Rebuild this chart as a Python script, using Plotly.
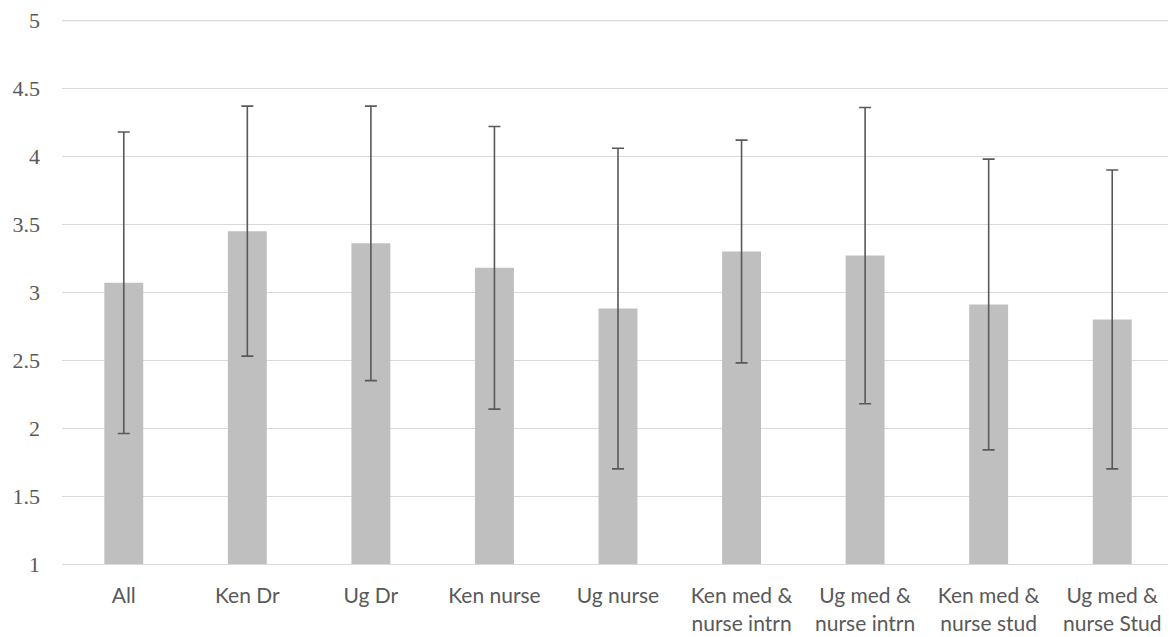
import plotly.graph_objects as go

categories = ["All", "Ken Dr", "Ug Dr", "Ken nurse", "Ug nurse",
              "Ken med &<br>nurse intrn", "Ug med &<br>nurse intrn",
              "Ken med &<br>nurse stud", "Ug med &<br>nurse Stud"]
means = [3.07, 3.45, 3.36, 3.18, 2.88, 3.30, 3.27, 2.91, 2.80]
sd = [1.11, 0.92, 1.01, 1.04, 1.18, 0.82, 1.09, 1.07, 1.10]
y_ticks = [1, 1.5, 2, 2.5, 3, 3.5, 4, 4.5, 5]
y_min, y_max = 1, 5

fig = go.Figure()
fig.add_trace(go.Bar(
    x=categories, y=means,
    marker=dict(color="#BFBFBF", line=dict(width=0)),
    error_y=dict(type="data", array=sd, visible=True,
                 color="#595959", thickness=1.6, width=6),
))

# top gridline (at the range edge plotly omits it)
fig.add_shape(type="line", xref="paper", yref="y", x0=0, x1=1, y0=y_max, y1=y_max,
              line=dict(color="#D9D9D9", width=1.3), layer="below")

# page body has an 8px margin, so the figure is sized/offset to compensate
fig.update_layout(
    width=1168, height=629,
    margin=dict(l=54, r=2, t=12, b=73),
    plot_bgcolor="white", paper_bgcolor="white",
    bargap=0.685, showlegend=False,
    xaxis=dict(showgrid=False, showline=True, linecolor="#D9D9D9", linewidth=1,
               ticks="", automargin=False,
               tickfont=dict(family="Lato", size=21, color="#595959"),
               ticklabelstandoff=13),
    yaxis=dict(range=[y_min, y_max + 0.004], tickvals=y_ticks, ticktext=[str(v) for v in y_ticks],
               showgrid=True, gridcolor="#D9D9D9", gridwidth=1, zeroline=False,
               showline=False, ticks="", automargin=False,
               tickfont=dict(family="Liberation Serif", size=22, color="#595959"),
               ticklabelstandoff=21),
)

fig.write_html("out.html")
